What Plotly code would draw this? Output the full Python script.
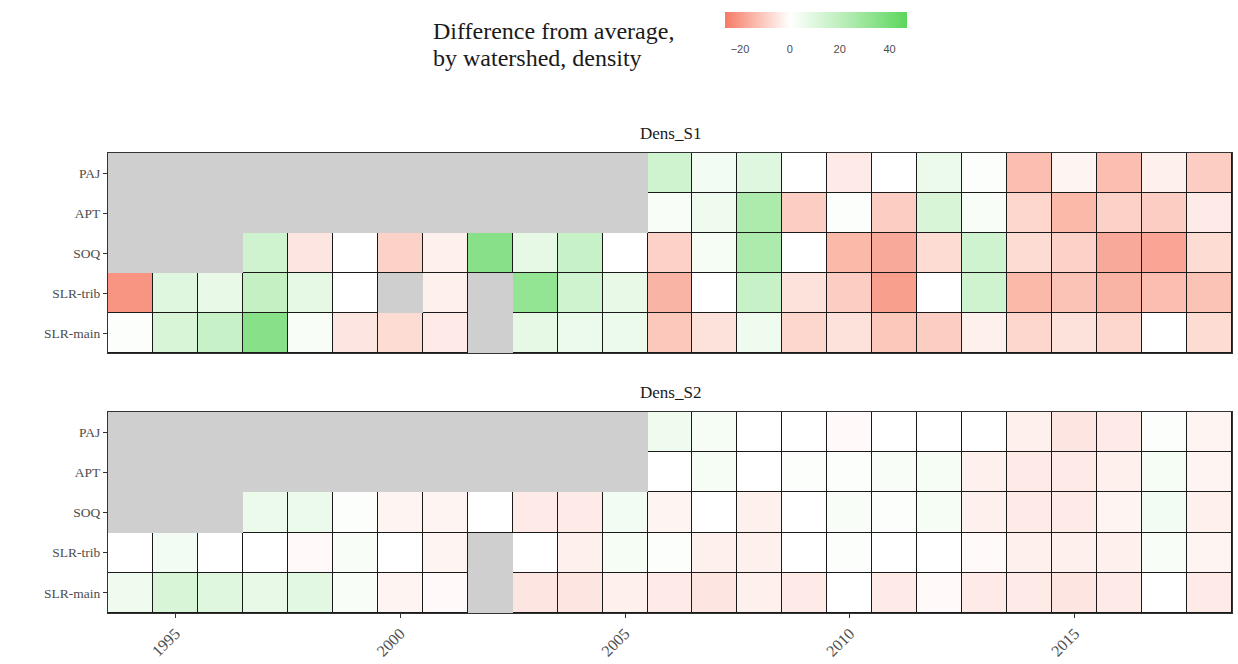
import plotly.graph_objects as go

years = list(range(1994, 2019))
sites = ["PAJ", "APT", "SOQ", "SLR-trib", "SLR-main"]
x_tick_years = [1995, 2000, 2005, 2010, 2015]
legend_ticks = [-20, 0, 20, 40]

N = None
# Dens_S1
s1_paj = [N]*12 + [15, 4, 10, 0, -4, 0, 6, 1, -13, -2, -13, -3, -10]
s1_apt = [N]*12 + [2, 5, 25, -10, 1, -10, 12, 2, -8, -14, -9, -10, -4]
s1_soq = [N]*3 + [15, -5, 0, -9, -3, 35, 8, 17, 0] + [-9, 3, 25, 0, -14, -17, -7, 15, -7, -9, -17, -18, -7]
s1_slr_trib = [-21, 10, 7, 18, 8, 0, N, -3, N, 32, 15, 7] + [-15, 0, 17, -6, -10, -19, 0, 15, -14, -12, -15, -13, -12]
s1_slr_main = [1, 12, 17, 35, 2, -5, -7, -4, N, 8, 6, 6] + [-11, -6, 5, -8, -6, -11, -10, -3, -8, -6, -8, 0, -7]
# Dens_S2
s2_paj = [N]*12 + [5, 3, 0, 0, -1, 0, 0, 0, -3, -5, -4, 1, -2]
s2_apt = [N]*12 + [0, 3, 0, 1, 1, 2, 3, -3, -4, -4, -3, 3, -2]
s2_soq = [N]*3 + [6, 6, 1, -2, -2, 0, -4, -4, 4] + [-2, 0, -3, 0, 2, 1, 3, -3, -4, -4, -2, 4, -3]
s2_slr_trib = [0, 4, 0, 0, -1, 2, 0, -2, N, 0, -3, 3] + [1, -3, -3, 0, 1, 0, 0, -1, -3, -3, -3, 2, -2]
s2_slr_main = [5, 12, 10, 7, 9, 2, -2, -1, N, -5, -5, -3] + [-4, -5, -3, -4, 0, -4, -1, -4, -4, -5, -4, 0, -4]

panels = [
    ("Dens_S1", [s1_paj, s1_apt, s1_soq, s1_slr_trib, s1_slr_main]),
    ("Dens_S2", [s2_paj, s2_apt, s2_soq, s2_slr_trib, s2_slr_main]),
]
legend_title_lines = ["Difference from average,", "by watershed, density"]

ZMIN, ZMAX = -26, 47
zero = (0 - ZMIN) / (ZMAX - ZMIN)
cscale = [[0, "rgb(246,122,102)"], [zero * 0.5, "rgb(251,190,176)"], [zero, "rgb(255,255,255)"],
          [zero + (1 - zero) * 0.5, "rgb(178,236,178)"], [1, "rgb(92,214,92)"]]

W, H = 1238, 664
ML, MR, MT, MB = 108, 6, 153, 51
PH = H - MT - MB

def py(px):
    return (H - MB - px) / PH

def pxx(px):
    return (px - ML) / (W - ML - MR)

serif = "Liberation Serif, Times New Roman, DejaVu Serif, serif"
fig = go.Figure()
domains = [[py(353), 1.0], [0.0, py(412)]]

for i, (name, rows) in enumerate(panels):
    xa = "x" if i == 0 else "x2"
    ya = "y" if i == 0 else "y2"
    present = [[1 if v is not None else None for v in r] for r in rows]
    fig.add_trace(go.Heatmap(x=years, y=sites, z=present, xaxis=xa, yaxis=ya,
                             colorscale=[[0, "#1a1a1a"], [1, "#1a1a1a"]], showscale=False,
                             hoverinfo="skip"))
    fig.add_trace(go.Heatmap(x=years, y=sites, z=rows, xaxis=xa, yaxis=ya,
                             colorscale=cscale, zmin=ZMIN, zmax=ZMAX, xgap=1, ygap=1,
                             showscale=(i == 0),
                             colorbar=dict(orientation="h", x=pxx(816), xanchor="center",
                                           y=py(12), yanchor="top", len=pxx(907) - pxx(725),
                                           thickness=16, tickvals=legend_ticks,
                                           ticks="outside", ticklen=12, tickcolor="rgba(0,0,0,0)",
                                           outlinewidth=0, ypad=0, xpad=0,
                                           tickfont=dict(family="Liberation Sans", size=11, color="#4d4d4d"))))
    fig.add_annotation(text=name, x=0.5, y=py(133 if i == 0 else 392), xref="paper", yref="paper",
                       showarrow=False, font=dict(family=serif, size=17, color="#1a1a1a"),
                       xanchor="center", yanchor="middle")

axis_common = dict(showline=True, linecolor="#333333", linewidth=1, mirror=True,
                   showgrid=False, zeroline=False, automargin=False)
ytick_font = dict(family=serif, size=13.5, color="#4d4d4d")
fig.update_layout(
    width=W, height=H,
    margin=dict(l=ML, r=MR, t=MT, b=MB, autoexpand=False),
    paper_bgcolor="white", plot_bgcolor="#cfcfcf",
    xaxis=dict(domain=[0, 1], range=[1993.5, 2018.5], anchor="y", showticklabels=False,
               ticks="", **axis_common),
    xaxis2=dict(domain=[0, 1], range=[1993.5, 2018.5], anchor="y2", tickvals=x_tick_years,
                ticks="outside", ticklen=4, tickcolor="#333", tickangle=-45,
                tickfont=dict(family=serif, size=16, color="#4d4d4d"), **axis_common),
    yaxis=dict(domain=domains[0], anchor="x", categoryorder="array",
               categoryarray=sites[::-1], ticks="outside", ticklen=4, tickcolor="#333",
               tickfont=ytick_font, **axis_common),
    yaxis2=dict(domain=domains[1], anchor="x2", categoryorder="array",
                categoryarray=sites[::-1], ticks="outside", ticklen=4, tickcolor="#333",
                tickfont=ytick_font, **axis_common),
)

for line, ypx in zip(legend_title_lines, [31, 58]):
    fig.add_annotation(text=line, x=pxx(431), y=py(ypx), xref="paper", yref="paper",
                       showarrow=False, xanchor="left", yanchor="middle", align="left",
                       font=dict(family=serif, size=24, color="#1a1a1a"))

fig.write_html("out.html", config={"displayModeBar": False},
               post_script="document.body.style.margin='0';document.body.style.overflow='hidden';")
